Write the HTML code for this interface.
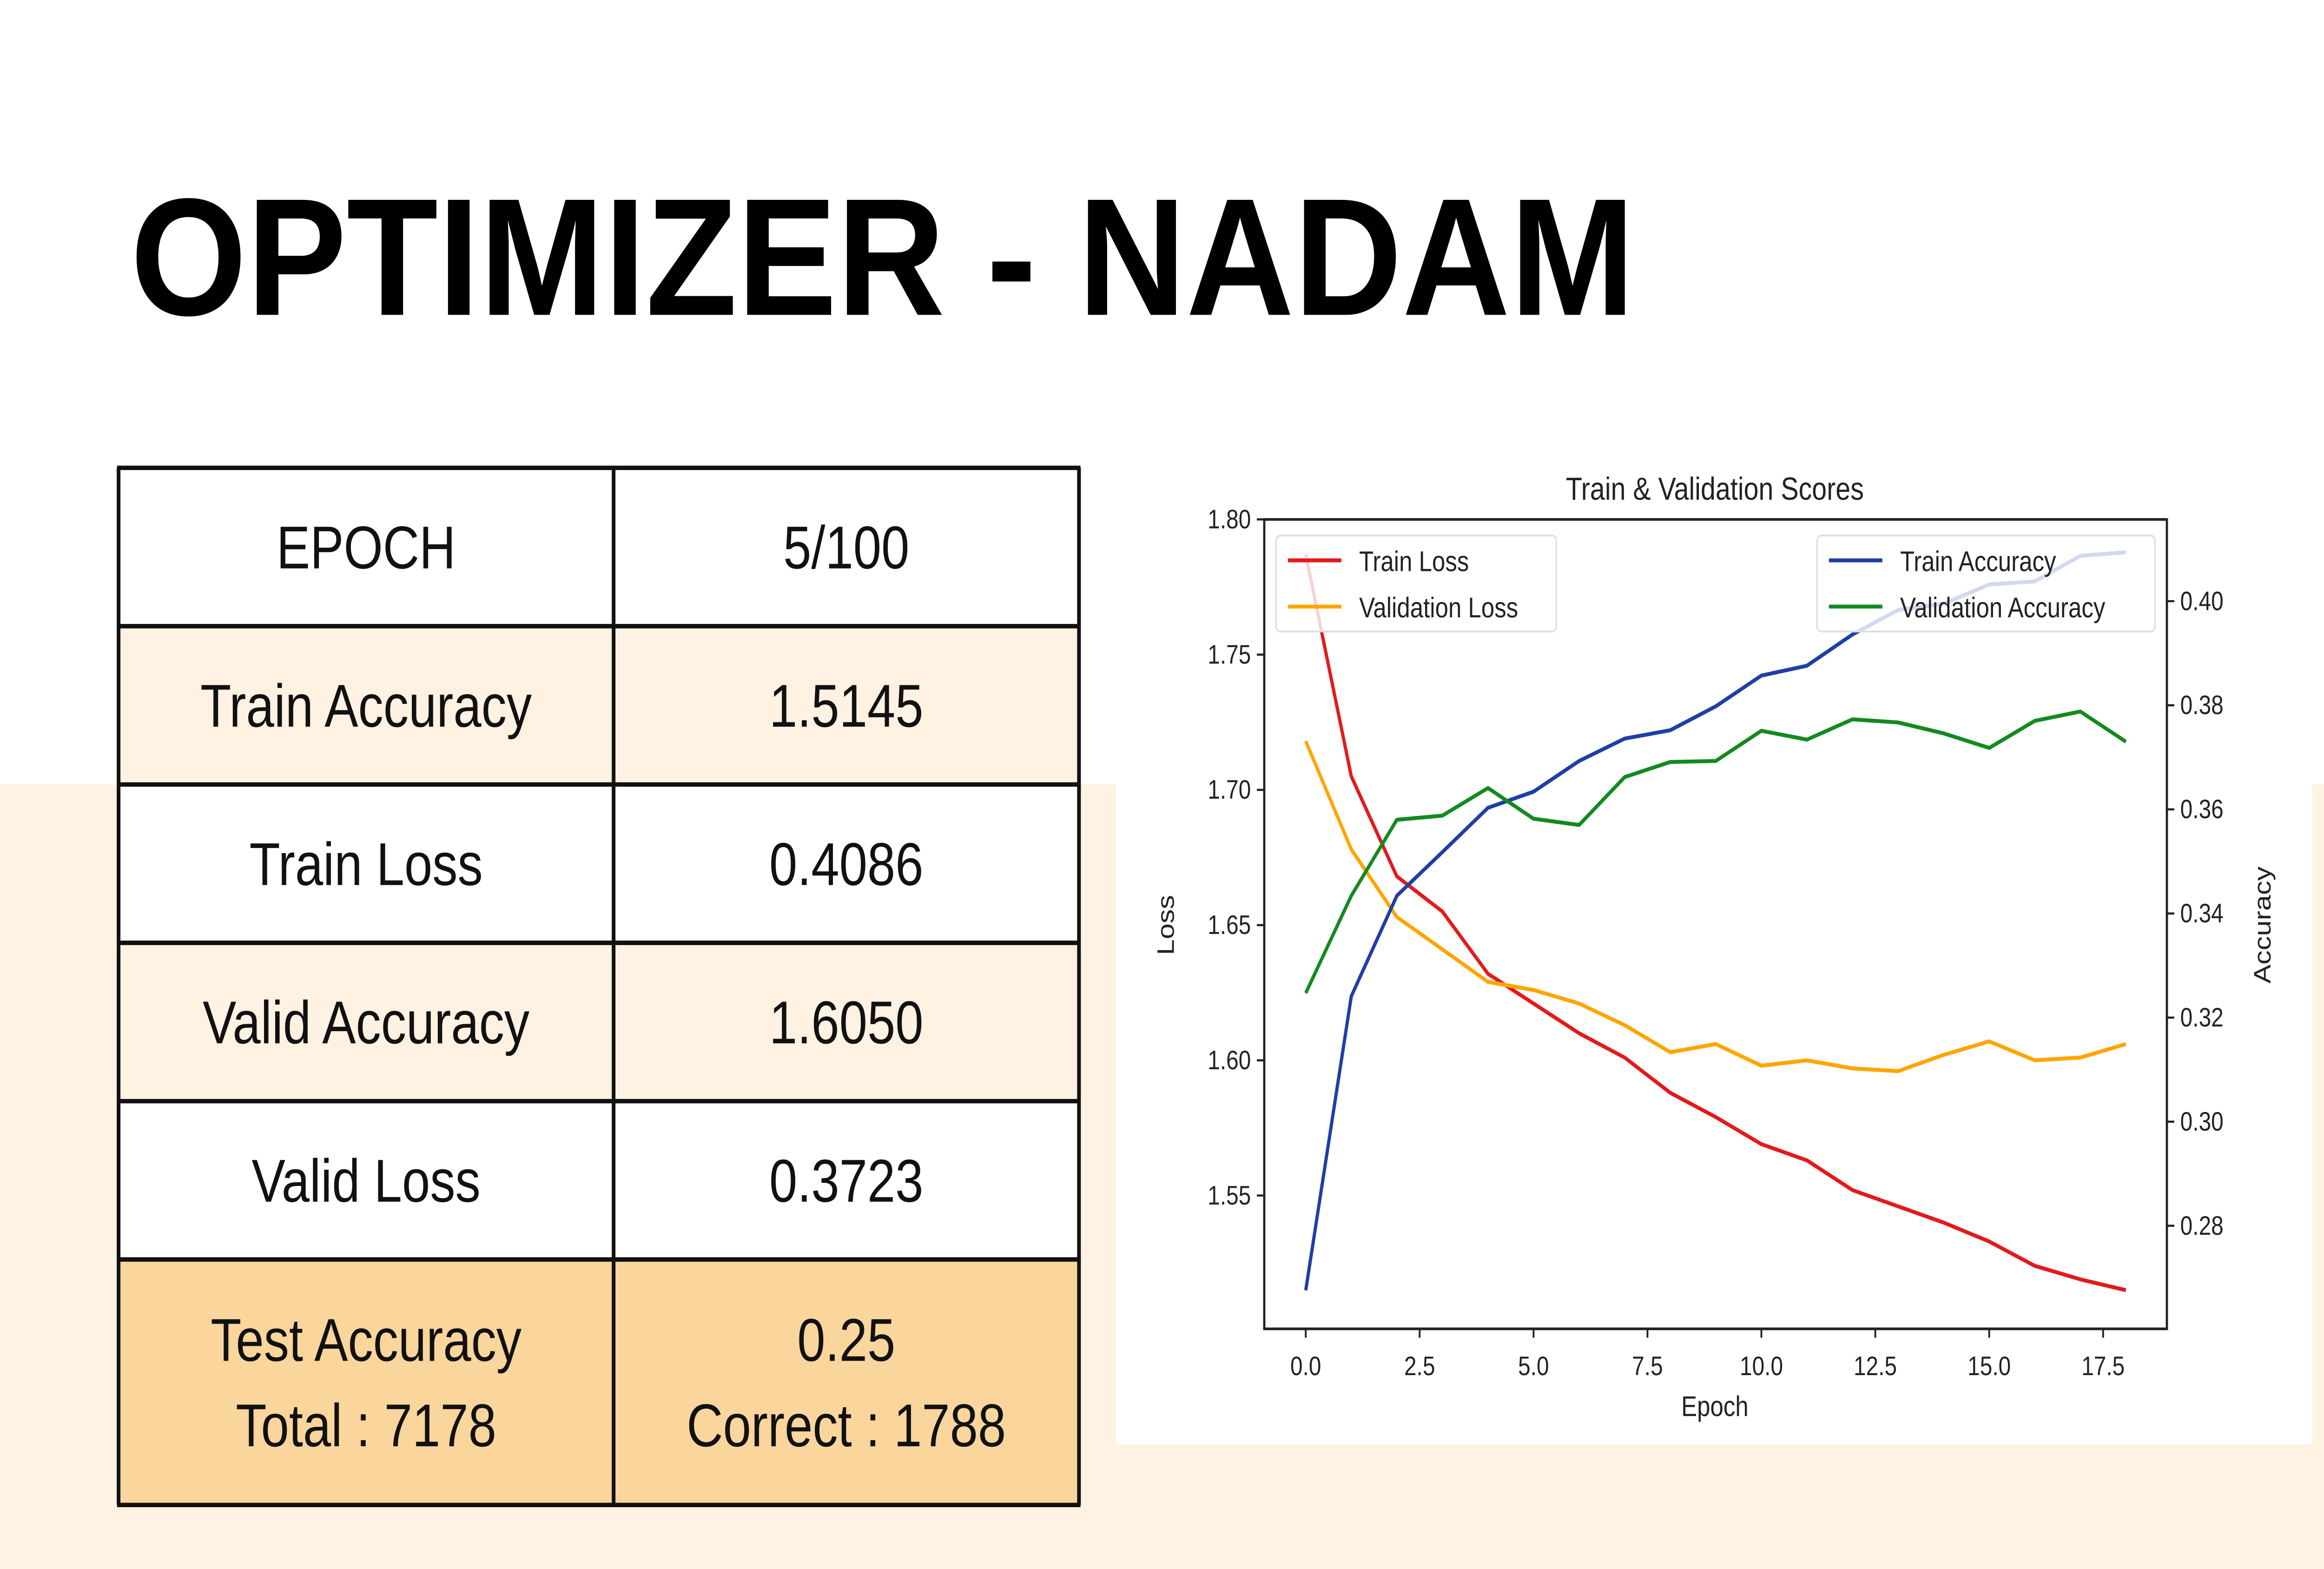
<!DOCTYPE html>
<html><head><meta charset="utf-8"><style>
html,body{margin:0;padding:0;background:#fff;width:100%;height:100%;overflow:hidden;}
svg{display:block;width:100vw;height:100vh;}
text{font-family:"Liberation Sans","DejaVu Sans",sans-serif;}
</style></head><body>
<svg id="root" viewBox="0 0 1568 882" preserveAspectRatio="none" xmlns="http://www.w3.org/2000/svg">
<rect x="0" y="0" width="1568" height="882" fill="#ffffff"/>
<rect x="0" y="441" width="1568" height="441" fill="#fff2e2"/>
<text x="88" y="177" font-size="94" font-weight="bold" textLength="1015" lengthAdjust="spacingAndGlyphs" fill="#000">OPTIMIZER - NADAM</text>

<g id="table"></g>

<rect x="753" y="241" width="807" height="571" fill="#ffffff"/>
<g id="chart"></g>
</svg>
<script>
const rowLabels=["EPOCH","Train Accuracy","Train Loss","Valid Accuracy","Valid Loss","Test Accuracy|Total : 7178"];
const rowValues=["5/100","1.5145","0.4086","1.6050","0.3723","0.25|Correct : 1788"];
const epochs=[0,1,2,3,4,5,6,7,8,9,10,11,12,13,14,15,16,17,18];
const trainLoss=[1.787,1.705,1.668,1.655,1.632,1.621,1.610,1.601,1.588,1.579,1.569,1.563,1.552,1.546,1.540,1.533,1.524,1.519,1.515];
const valLoss=[1.718,1.678,1.653,1.641,1.629,1.626,1.621,1.613,1.603,1.606,1.598,1.600,1.597,1.596,1.602,1.607,1.600,1.601,1.606];
const trainAcc=[0.2676,0.3241,0.3434,0.3518,0.3603,0.3634,0.3693,0.3736,0.3752,0.3798,0.3857,0.3876,0.3936,0.3983,0.3995,0.4032,0.4038,0.4087,0.4094];
const valAcc=[0.3247,0.3434,0.3580,0.3588,0.3641,0.3582,0.3570,0.3662,0.3691,0.3693,0.3751,0.3734,0.3773,0.3767,0.3746,0.3718,0.3770,0.3788,0.3730];
const xTicks=[0,2.5,5,7.5,10,12.5,15,17.5];
const xTickLabels=["0.0","2.5","5.0","7.5","10.0","12.5","15.0","17.5"];
const lossTicks=[1.55,1.60,1.65,1.70,1.75,1.80];
const lossTickLabels=["1.55","1.60","1.65","1.70","1.75","1.80"];
const accTicks=[0.28,0.30,0.32,0.34,0.36,0.38,0.40];
const accTickLabels=["0.28","0.30","0.32","0.34","0.36","0.38","0.40"];

const NS="http://www.w3.org/2000/svg";
function mk(tag,attrs,parent,txt){const e=document.createElementNS(NS,tag);for(const k in attrs)e.setAttribute(k,attrs[k]);if(txt!==undefined)e.textContent=txt;parent.appendChild(e);return e;}

const tg=document.getElementById('table');
const rowY=[263,352,441,530,619,708,846];
const fills=["#ffffff","#fff2e2","#ffffff","#fff2e2","#ffffff","#fad59c"];
for(let i=0;i<rowLabels.length;i++){
  const y0=rowY[i],h=rowY[i+1]-rowY[i];
  const r1=mk('rect',{x:80,y:y0,width:334,height:h,fill:fills[i]},tg);
  
  
  const r2=mk('rect',{x:414,y:y0,width:314,height:h,fill:fills[i]},tg);
  
  
  [[rowLabels[i],247],[rowValues[i],571]].forEach(([s,cx],j)=>{
    const parts=s.split('|');
    parts.forEach((p,k)=>{
      const cy=parts.length===1? y0+h/2+12 : y0+h/2+12+(k===0?-24:24);
      const t=mk('text',{x:cx,y:cy,'font-size':34,'text-anchor':'middle',fill:'#111'},tg,p);
      
      
    });
  });
}
for(const y of rowY){const l=mk('line',{x1:79,x2:729,y1:y,y2:y,stroke:'#111','stroke-width':2.5},tg);
  
  }
for(const x of [80,414,728]){const l=mk('line',{x1:x,x2:x,y1:263,y2:846,stroke:'#111','stroke-width':2.5},tg);
  
  }

const cg=document.getElementById('chart');
const L=853,R=1462,T=292,B=747;
const xMin=-0.91,xMax=18.9,lMin=1.5007,lMax=1.80,aMin=0.2602,aMax=0.4157;
const sx=v=>L+(v-xMin)/(xMax-xMin)*(R-L);
const sl=v=>B-(v-lMin)/(lMax-lMin)*(B-T);
const sa=v=>B-(v-aMin)/(aMax-aMin)*(B-T);
const tc='#222';
function series(vals,scale,color,name){
  const d=vals.map((v,i)=>(i?'L':'M')+sx(epochs[i]).toFixed(2)+','+scale(v).toFixed(2)).join(' ');
  const p=mk('path',{d:d,fill:'none',stroke:color,'stroke-width':2.2,'stroke-linejoin':'round'},cg);
  
  
}
series(trainLoss,sl,'#e31a1c','train-loss-line');
series(valLoss,sl,'#ffa500','validation-loss-line');
series(trainAcc,sa,'#1f3fa6','train-accuracy-line');
series(valAcc,sa,'#138a1f','validation-accuracy-line');
const fr=mk('rect',{x:L,y:T,width:R-L,height:B-T,fill:'none',stroke:'#222','stroke-width':1.5},cg);


xTicks.forEach((v,i)=>{const x=sx(v);
  const l=mk('line',{x1:x,x2:x,y1:B,y2:B+5,stroke:tc,'stroke-width':1.2},cg);
  
  
  const t=mk('text',{x:x,y:B+26,'font-size':15,'text-anchor':'middle',fill:tc},cg,xTickLabels[i]);
  
  });
lossTicks.forEach((v,i)=>{const y=sl(v);
  const l=mk('line',{x1:L-5,x2:L,y1:y,y2:y,stroke:tc,'stroke-width':1.2},cg);
  
  
  const t=mk('text',{x:L-9,y:y+5,'font-size':15,'text-anchor':'end',fill:tc},cg,lossTickLabels[i]);
  
  });
accTicks.forEach((v,i)=>{const y=sa(v);
  const l=mk('line',{x1:R,x2:R+5,y1:y,y2:y,stroke:tc,'stroke-width':1.2},cg);
  
  
  const t=mk('text',{x:R+9,y:y+5,'font-size':15,'text-anchor':'start',fill:tc},cg,accTickLabels[i]);
  
  });
let t;
t=mk('text',{x:1157,y:281,'font-size':18,'text-anchor':'middle',fill:tc},cg,'Train & Validation Scores');


t=mk('text',{x:1157,y:796,'font-size':16,'text-anchor':'middle',fill:tc},cg,'Epoch');


t=mk('text',{x:0,y:0,'font-size':16,'text-anchor':'middle',fill:tc,transform:'translate(792,520) rotate(-90)'},cg,'Loss');


t=mk('text',{x:0,y:0,'font-size':16,'text-anchor':'middle',fill:tc,transform:'translate(1532,520) rotate(-90)'},cg,'Accuracy');


function legend(x,y,w,entries,name){
  const b=mk('rect',{x:x,y:y,width:w,height:54,rx:3,fill:'rgba(255,255,255,0.8)',stroke:'#ddd','stroke-width':1},cg);
  
  
  entries.forEach(([lab,col],i)=>{const yy=y+14+i*26;
    const l=mk('line',{x1:x+8,x2:x+44,y1:yy,y2:yy,stroke:col,'stroke-width':2.2},cg);
    
    
    const tt=mk('text',{x:x+56,y:yy+6,'font-size':16,fill:tc},cg,lab);
    
    });
}
legend(861,301,189,[['Train Loss','#e31a1c'],['Validation Loss','#ffa500']],'loss-legend');
legend(1226,301,228,[['Train Accuracy','#1f3fa6'],['Validation Accuracy','#138a1f']],'accuracy-legend');
</script>
</body></html>
